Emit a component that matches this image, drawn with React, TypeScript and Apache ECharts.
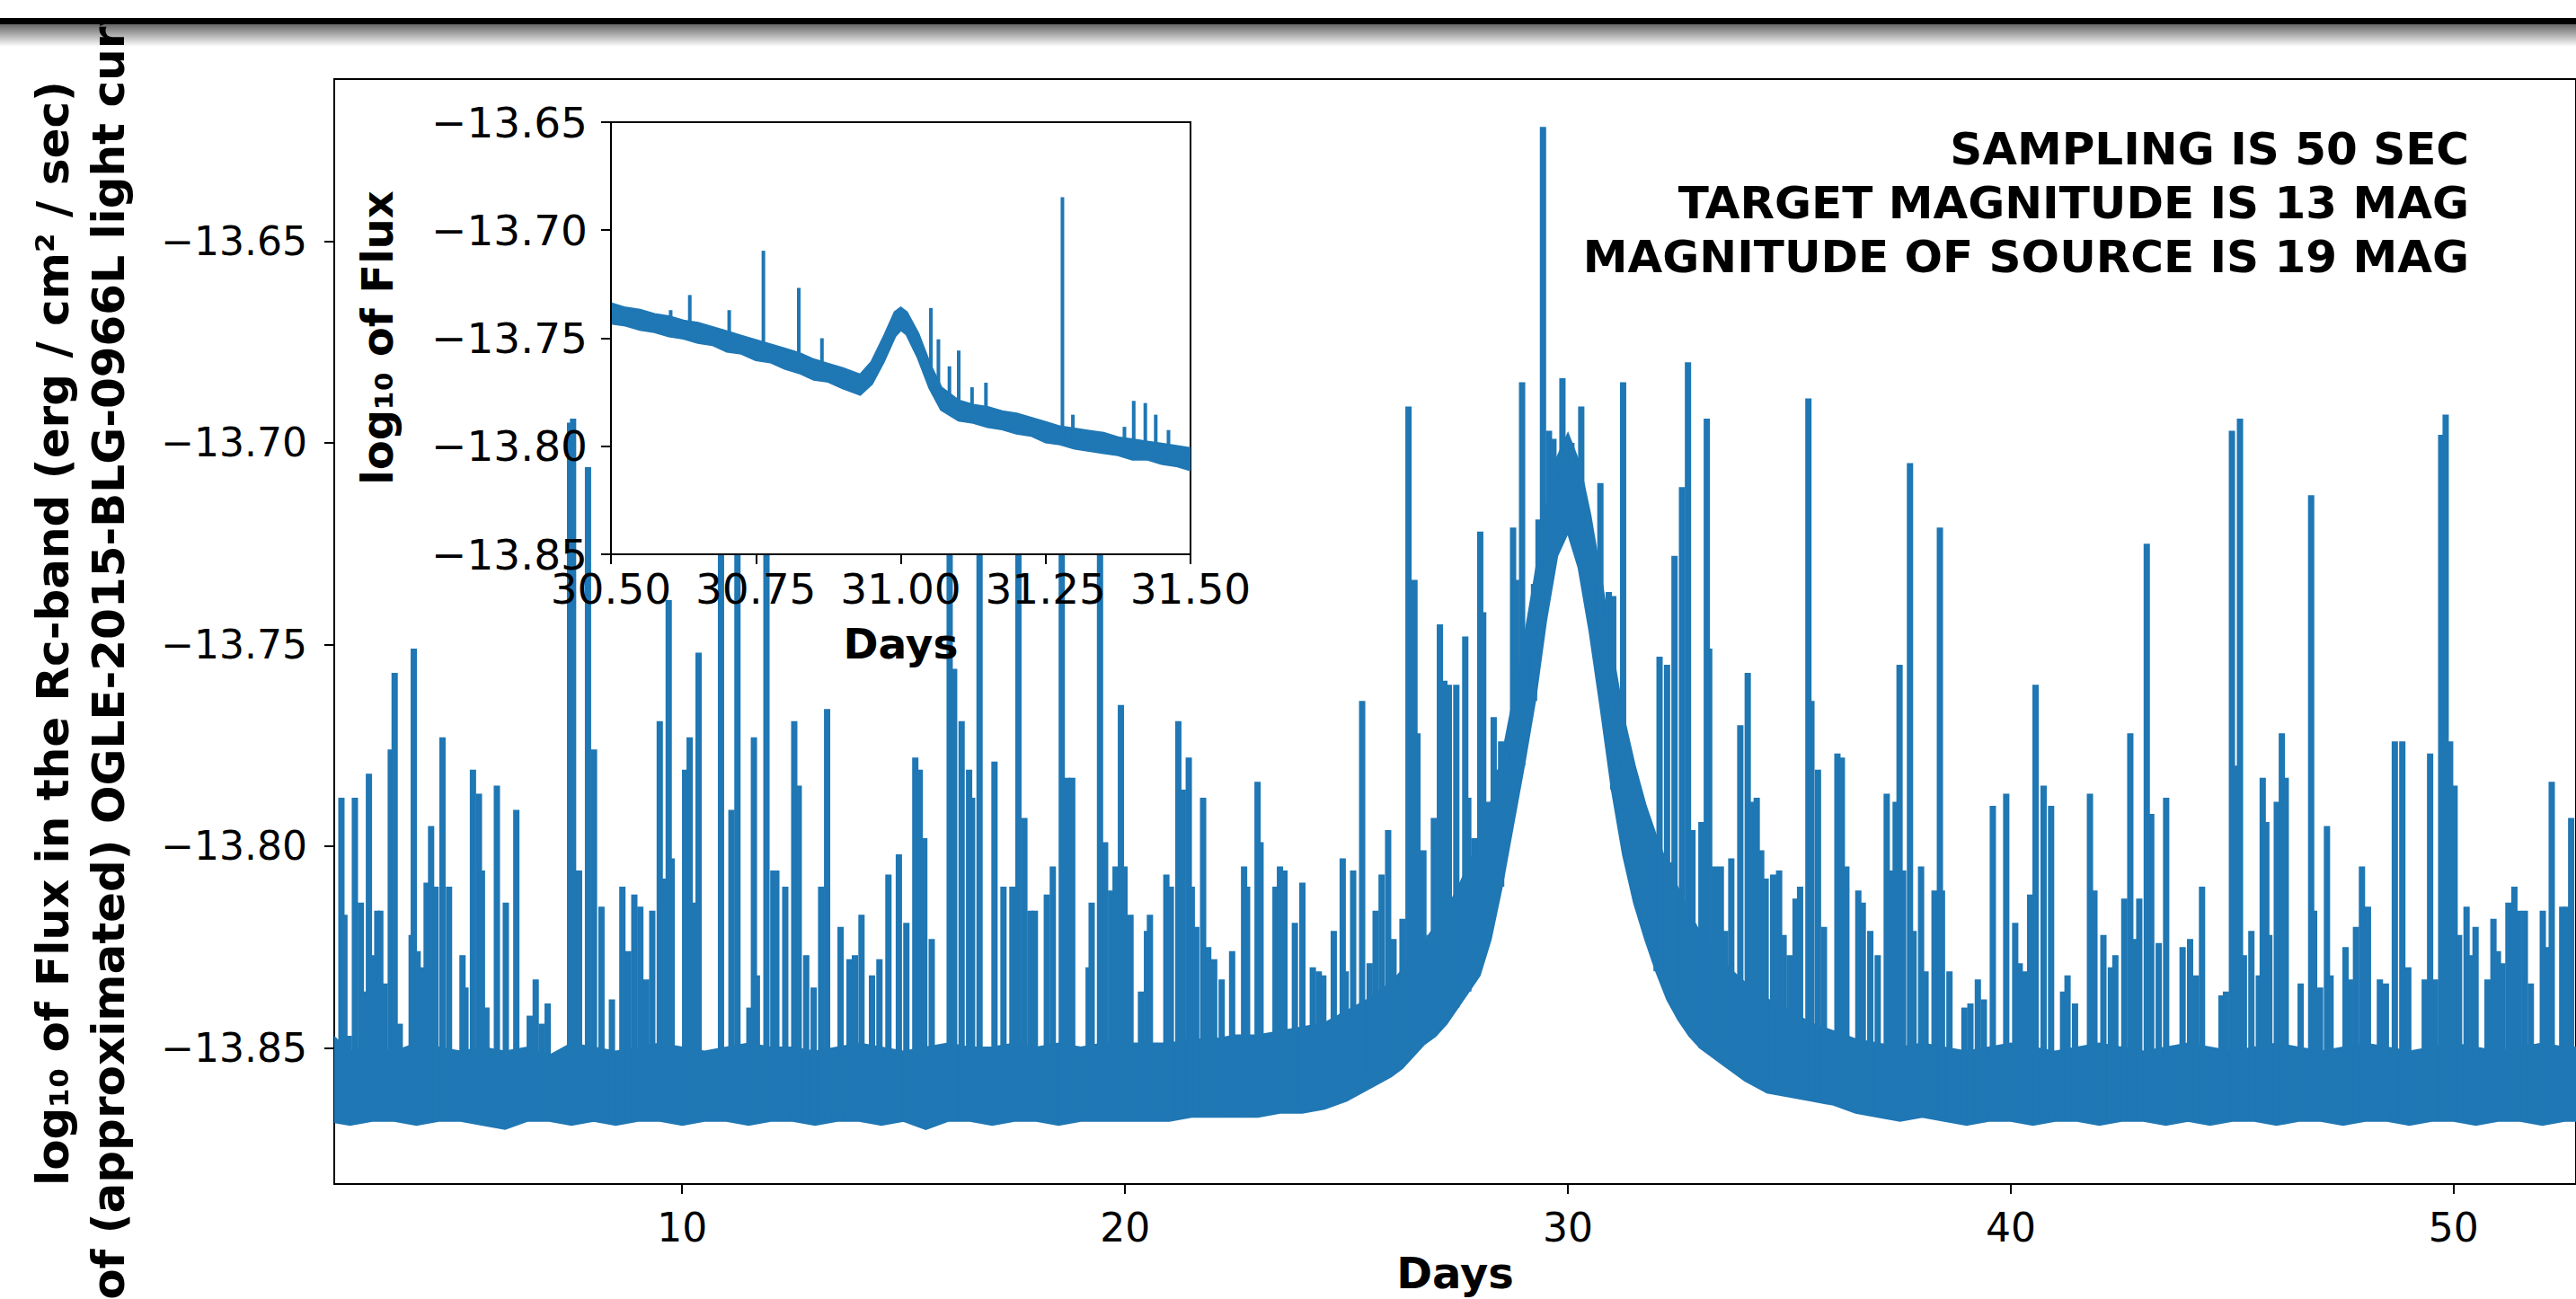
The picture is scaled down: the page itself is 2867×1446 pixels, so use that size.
import React, { useEffect, useRef } from "react";
import * as echarts from "echarts";

// ---------------- DATA ----------------
// Main light curve: dense noise band (lower / upper envelope of the solid band)
const bandDays = [2.0, 2.5, 3.0, 3.5, 4.0, 4.5, 5.0, 5.5, 6.0, 6.5, 7.0, 7.5, 8.0, 8.5, 9.0, 9.5, 10.0, 10.5, 11.0, 11.5, 12.0, 12.5, 13.0, 13.5, 14.0, 14.5, 15.0, 15.5, 16.0, 16.5, 17.0, 17.5, 18.0, 18.5, 19.0, 19.5, 20.0, 20.5, 21.0, 21.5, 22.0, 22.5, 23.0, 23.5, 24.0, 24.5, 25.0, 25.5, 26.0, 26.25, 26.5, 26.75, 27.0, 27.25, 27.5, 27.75, 28.0, 28.25, 28.5, 28.75, 29.0, 29.25, 29.5, 29.75, 30.0, 30.25, 30.5, 30.75, 31.0, 31.25, 31.5, 31.75, 32.0, 32.25, 32.5, 32.75, 33.0, 33.5, 34.0, 34.5, 35.0, 35.5, 36.0, 36.5, 37.0, 37.5, 38.0, 38.5, 39.0, 39.5, 40.0, 40.5, 41.0, 41.5, 42.0, 42.5, 43.0, 43.5, 44.0, 44.5, 45.0, 45.5, 46.0, 46.5, 47.0, 47.5, 48.0, 48.5, 49.0, 49.5, 50.0, 50.5, 51.0, 51.5, 52.0, 52.5, 53.0];
const bandLow = [-13.868, -13.869, -13.868, -13.868, -13.869, -13.868, -13.868, -13.869, -13.870, -13.868, -13.868, -13.869, -13.868, -13.869, -13.868, -13.868, -13.869, -13.868, -13.868, -13.869, -13.868, -13.868, -13.869, -13.868, -13.868, -13.869, -13.868, -13.870, -13.868, -13.868, -13.869, -13.868, -13.868, -13.869, -13.868, -13.868, -13.868, -13.868, -13.868, -13.867, -13.867, -13.867, -13.867, -13.866, -13.866, -13.865, -13.863, -13.860, -13.857, -13.855, -13.852, -13.849, -13.847, -13.844, -13.840, -13.836, -13.832, -13.823, -13.810, -13.795, -13.780, -13.764, -13.744, -13.728, -13.722, -13.731, -13.747, -13.766, -13.786, -13.802, -13.814, -13.823, -13.831, -13.838, -13.843, -13.847, -13.850, -13.854, -13.858, -13.861, -13.862, -13.863, -13.864, -13.866, -13.867, -13.868, -13.867, -13.868, -13.869, -13.868, -13.868, -13.869, -13.868, -13.868, -13.869, -13.868, -13.868, -13.869, -13.868, -13.869, -13.868, -13.868, -13.869, -13.868, -13.868, -13.869, -13.868, -13.868, -13.869, -13.868, -13.868, -13.869, -13.868, -13.868, -13.869, -13.868, -13.868];
const bandHigh = [-13.846, -13.851, -13.850, -13.851, -13.849, -13.850, -13.851, -13.850, -13.851, -13.850, -13.852, -13.849, -13.850, -13.851, -13.850, -13.849, -13.850, -13.851, -13.850, -13.849, -13.850, -13.850, -13.851, -13.850, -13.849, -13.850, -13.851, -13.850, -13.849, -13.850, -13.850, -13.849, -13.850, -13.849, -13.850, -13.849, -13.849, -13.849, -13.849, -13.848, -13.848, -13.847, -13.847, -13.846, -13.845, -13.844, -13.841, -13.838, -13.834, -13.831, -13.828, -13.824, -13.820, -13.816, -13.811, -13.805, -13.799, -13.790, -13.779, -13.765, -13.750, -13.734, -13.717, -13.704, -13.698, -13.705, -13.718, -13.734, -13.752, -13.768, -13.780, -13.790, -13.798, -13.805, -13.811, -13.817, -13.822, -13.829, -13.834, -13.838, -13.841, -13.844, -13.846, -13.848, -13.849, -13.850, -13.849, -13.850, -13.851, -13.850, -13.849, -13.850, -13.851, -13.850, -13.849, -13.850, -13.851, -13.850, -13.849, -13.850, -13.851, -13.850, -13.849, -13.850, -13.851, -13.850, -13.849, -13.850, -13.851, -13.850, -13.849, -13.850, -13.851, -13.850, -13.849, -13.850, -13.850];

// Main light curve: spikes (day, top of spike)
const spikeDays = [
  2.306, 2.374, 2.475, 2.610, 2.745, 2.813, 2.927, 3.015, 3.116, 3.184, 3.285, 3.420, 3.508, 3.623, 3.892, 3.940, 4.027, 4.129, 4.230, 4.331,
  4.432, 4.588, 4.736, 5.040, 5.107, 5.276, 5.411, 5.479, 5.580, 5.816, 6.018, 6.255, 6.558, 6.693, 6.828, 6.963, 7.469, 7.537, 7.672, 7.874,
  8.009, 8.178, 8.414, 8.650, 8.785, 8.920, 9.055, 9.190, 9.325, 9.494, 9.595, 9.696, 9.764, 10.067, 10.169, 10.304, 10.371,
  10.877, 11.113, 11.248, 11.518, 11.620, 11.687, 11.903, 12.058, 12.126, 12.328, 12.531, 12.632, 12.801, 12.969, 13.138, 13.273, 13.577, 13.779,
  13.901, 14.049, 14.286, 14.454, 14.657, 14.893, 15.062, 15.264, 15.365, 15.467, 15.635, 16.040, 16.141, 16.310, 16.479, 16.546, 16.715, 17.052,
  17.255, 17.457, 17.592, 17.727, 17.862, 17.964, 18.234, 18.369, 18.571, 18.706, 18.807,
  19.178, 19.246, 19.435, 19.550, 19.685, 19.786, 19.907, 19.988, 20.123, 20.360, 20.495, 20.562, 20.933, 21.034, 21.203, 21.304, 21.439, 21.507,
  21.608, 21.763, 21.878, 22.013, 22.182, 22.418, 22.688, 22.756, 22.992, 23.059, 23.397, 23.498, 23.599, 23.835, 24.004, 24.240, 24.375, 24.477,
  24.713, 24.915, 24.983, 25.151, 25.354, 25.523, 25.658, 25.793, 25.941, 26.062, 26.265, 26.400, 26.535, 26.602, 26.737, 26.872, 26.973, 27.109,
  27.210, 27.311, 27.480,
  27.682, 27.750, 27.885, 28.020, 28.087, 28.189, 28.324, 28.425, 28.492, 28.627, 28.762, 28.830, 28.965, 29.066, 29.235, 29.336, 29.437, 29.572,
  29.673, 29.808, 29.876, 29.977, 30.078, 30.180, 30.301, 30.416, 30.551, 30.686, 30.733, 30.821, 30.922, 31.023, 31.091, 31.246, 31.327, 31.462,
  31.597, 31.732, 31.867, 32.002, 32.069, 32.238, 32.339, 32.407, 32.576, 32.711, 32.812, 33.014, 33.136, 33.190, 33.318, 33.453, 33.554, 33.689,
  33.892, 34.060, 34.162, 34.263, 34.364, 34.465, 34.634, 34.769, 34.870, 35.005, 35.140, 35.242, 35.430, 35.498, 35.646, 35.781, 36.085,
  36.185, 36.287, 36.557, 36.658, 36.827, 36.995, 37.198, 37.299, 37.400, 37.488, 37.569, 37.724, 37.805, 37.974, 38.075, 38.278, 38.399, 38.446,
  38.615, 38.953, 39.088, 39.256, 39.391, 39.594, 39.897, 40.100, 40.201, 40.302, 40.437, 40.559, 40.741, 40.910, 41.180, 41.281, 41.450, 41.787,
  41.888, 42.091, 42.260, 42.361, 42.563, 42.698, 42.800, 42.901, 43.070, 43.171, 43.340, 43.508, 43.879, 44.048, 44.183, 44.318,
  44.757, 44.858, 44.993, 45.061, 45.175, 45.263, 45.432, 45.601, 45.688, 45.769, 45.837, 46.006, 46.120, 46.208, 46.545, 46.782, 46.849, 46.984,
  47.139, 47.220, 47.558, 47.659, 47.794, 47.929, 48.064, 48.334, 48.469, 48.671, 48.840, 48.975, 49.346, 49.468, 49.583, 49.718, 49.819, 49.920,
  50.021, 50.122, 50.291, 50.393, 50.494, 50.764, 50.898, 50.999, 51.101, 51.236, 51.371, 51.472, 51.607, 51.742, 52.012, 52.113, 52.214, 52.451,
  52.552, 52.653
];
const spikeTops = [
  -13.788, -13.817, -13.847, -13.788, -13.814, -13.836, -13.782, -13.827, -13.816, -13.816, -13.834, -13.776, -13.757, -13.844, -13.822, -13.751, -13.826, -13.830, -13.809, -13.795,
  -13.810, -13.773, -13.810, -13.827, -13.835, -13.781, -13.787, -13.806, -13.840, -13.785, -13.814, -13.791, -13.842, -13.833, -13.844, -13.839, -13.695, -13.694, -13.806, -13.706,
  -13.776, -13.815, -13.838, -13.810, -13.826, -13.812, -13.815, -13.833, -13.816, -13.769, -13.808, -13.739, -13.803, -13.781, -13.773, -13.814, -13.752,
  -13.700, -13.791, -13.700, -13.840, -13.773, -13.832, -13.700, -13.806, -13.806, -13.810, -13.769, -13.785, -13.827, -13.835, -13.810, -13.766, -13.820, -13.828,
  -13.827, -13.817, -13.832, -13.828, -13.807, -13.802, -13.819, -13.778, -13.781, -13.798, -13.823, -13.700, -13.756, -13.769, -13.781, -13.788, -13.700, -13.779,
  -13.810, -13.810, -13.700, -13.793, -13.816, -13.816, -13.812, -13.805, -13.700, -13.783, -13.783,
  -13.830, -13.814, -13.700, -13.799, -13.811, -13.805, -13.765, -13.805, -13.817, -13.836, -13.821, -13.817, -13.807, -13.810, -13.769, -13.786, -13.778, -13.810,
  -13.820, -13.788, -13.825, -13.828, -13.833, -13.826, -13.805, -13.810, -13.784, -13.799, -13.810, -13.805, -13.806, -13.819, -13.809, -13.830, -13.831, -13.832,
  -13.821, -13.803, -13.831, -13.806, -13.764, -13.829, -13.816, -13.807, -13.796, -13.823, -13.818, -13.691, -13.734, -13.772, -13.801, -13.822, -13.793, -13.745,
  -13.759, -13.760, -13.760,
  -13.748, -13.788, -13.798, -13.722, -13.742, -13.789, -13.768, -13.781, -13.774, -13.781, -13.721, -13.734, -13.685, -13.753, -13.735, -13.719, -13.6217, -13.697,
  -13.699, -13.708, -13.684, -13.701, -13.700, -13.704, -13.691, -13.725, -13.735, -13.735, -13.710, -13.745, -13.737, -13.738, -13.779, -13.685, -13.781, -13.788,
  -13.808, -13.799, -13.798, -13.805, -13.753, -13.755, -13.804, -13.728, -13.711, -13.680, -13.796, -13.794, -13.694, -13.751, -13.805, -13.805, -13.821, -13.803,
  -13.770, -13.757, -13.789, -13.788, -13.801, -13.808, -13.807, -13.806, -13.822, -13.827, -13.813, -13.810, -13.689, -13.764, -13.781, -13.820, -13.777,
  -13.778, -13.805, -13.811, -13.814, -13.821, -13.827, -13.787, -13.806, -13.789, -13.755, -13.806, -13.705, -13.821, -13.805, -13.831, -13.811, -13.721, -13.811,
  -13.831, -13.840, -13.839, -13.833, -13.838, -13.790, -13.787, -13.819, -13.829, -13.831, -13.812, -13.760, -13.785, -13.790, -13.836, -13.832, -13.839, -13.787,
  -13.811, -13.822, -13.830, -13.827, -13.813, -13.772, -13.823, -13.813, -13.725, -13.792, -13.824, -13.788, -13.825, -13.823, -13.832, -13.810,
  -13.837, -13.836, -13.697, -13.780, -13.694, -13.827, -13.821, -13.832, -13.783, -13.794, -13.822, -13.789, -13.772, -13.783, -13.834, -13.713, -13.816, -13.835,
  -13.795, -13.832, -13.825, -13.833, -13.820, -13.805, -13.815, -13.833, -13.834, -13.774, -13.774, -13.830, -13.833, -13.777, -13.833, -13.698, -13.693, -13.774,
  -13.785, -13.822, -13.815, -13.827, -13.820, -13.833, -13.818, -13.826, -13.829, -13.814, -13.810, -13.816, -13.816, -13.834, -13.816, -13.825, -13.784, -13.815,
  -13.815, -13.793
];

// Inset (30.5 - 31.5 days): band and spikes
const insetDays = [30.50, 30.525, 30.55, 30.575, 30.60, 30.625, 30.65, 30.675, 30.70, 30.725, 30.75, 30.775, 30.80, 30.825, 30.85, 30.875, 30.90, 30.93, 30.95, 30.97, 30.99, 31.00, 31.01, 31.03, 31.05, 31.07, 31.10, 31.125, 31.15, 31.175, 31.20, 31.225, 31.25, 31.275, 31.30, 31.325, 31.35, 31.375, 31.40, 31.425, 31.45, 31.475, 31.50];
const insetLow = [-13.743, -13.744, -13.746, -13.747, -13.749, -13.750, -13.752, -13.753, -13.756, -13.757, -13.760, -13.761, -13.764, -13.766, -13.769, -13.770, -13.773, -13.776, -13.771, -13.761, -13.749, -13.746, -13.748, -13.759, -13.773, -13.783, -13.788, -13.789, -13.791, -13.792, -13.794, -13.795, -13.798, -13.799, -13.801, -13.802, -13.803, -13.804, -13.806, -13.806, -13.808, -13.809, -13.811];
const insetHigh = [-13.734, -13.736, -13.737, -13.739, -13.740, -13.742, -13.743, -13.745, -13.747, -13.749, -13.751, -13.753, -13.755, -13.757, -13.760, -13.762, -13.764, -13.767, -13.761, -13.750, -13.738, -13.736, -13.738, -13.748, -13.762, -13.773, -13.779, -13.781, -13.782, -13.784, -13.785, -13.787, -13.789, -13.791, -13.792, -13.793, -13.794, -13.796, -13.797, -13.798, -13.799, -13.800, -13.801];
const insetSpikeDays = [30.575, 30.603, 30.636, 30.704, 30.763, 30.799, 30.824, 30.855, 30.864, 31.027, 31.052, 31.065, 31.084, 31.100, 31.123, 31.147, 31.279, 31.297, 31.386, 31.402, 31.422, 31.440, 31.462];
const insetSpikeTops = [-13.741, -13.737, -13.730, -13.737, -13.7095, -13.7547, -13.7267, -13.760, -13.750, -13.7494, -13.736, -13.7505, -13.763, -13.7557, -13.7727, -13.7706, -13.6847, -13.7854, -13.791, -13.779, -13.780, -13.7854, -13.7925];

// Ticks and texts
const mainXTicks = [10, 20, 30, 40, 50];
const mainYTicks = [-13.85, -13.8, -13.75, -13.7, -13.65];
const yLabelLines = [
  "log\u2081\u2080 of Flux in the Rc-band (erg / cm\u00B2 / sec)",
  "of (approximated) OGLE-2015-BLG-0966L light curve",
];
const insetYLabel = "log\u2081\u2080 of Flux";
const xLabel = "Days";
const annotationLines = ["SAMPLING IS 50 SEC", "TARGET MAGNITUDE IS 13 MAG", "MAGNITUDE OF SOURCE IS 19 MAG"];

// ---------------- STYLE ----------------
const BLUE = "#1f77b4";
const FONT = "DejaVu Sans";

const fmt = (v: number) => v.toFixed(2).replace("-", "\u2212");

// base of a spike: the higher of the two bracketing lower-envelope samples (inside the band)
function spikeBase(days: number[], low: number[], d: number) {
  let i = 0;
  while (i < days.length - 2 && days[i + 1] < d) i++;
  return Math.max(low[i], low[i + 1]);
}

function bandRenderer(days: number[], low: number[], high: number[], lw: number) {
  return (params: any, api: any) => {
    if (params.dataIndex !== 0) return null;
    const pts: number[][] = [];
    for (let i = 0; i < days.length; i++) pts.push(api.coord([days[i], high[i]]));
    for (let i = days.length - 1; i >= 0; i--) pts.push(api.coord([days[i], low[i]]));
    return {
      type: "polygon",
      shape: { points: pts },
      style: { fill: BLUE, stroke: BLUE, lineWidth: lw, lineJoin: "miter" },
    };
  };
}

function spikeRenderer(lw: number) {
  return (params: any, api: any) => {
    const d = api.value(0);
    const p1 = api.coord([d, api.value(1)]);
    const p0 = api.coord([d, api.value(2)]);
    return {
      type: "line",
      shape: { x1: p0[0], y1: p0[1], x2: p1[0], y2: p1[1] },
      style: { stroke: BLUE, lineWidth: lw, lineCap: "butt" },
    };
  };
}

export default function App() {
  const ref = useRef<HTMLDivElement>(null);
  useEffect(() => {
    if (!ref.current) return;
    const chart = echarts.init(ref.current, null, { renderer: "svg", width: 2867, height: 1446 });

    const tickFont = { fontSize: 44, color: "#000", fontFamily: FONT };
    const insetTickFont = { fontSize: 47, color: "#000", fontFamily: FONT };

    const option: any = {
      animation: false,
      backgroundColor: "#fff",
      grid: [
        { left: 372, top: 88, width: 2500, height: 1234, show: true, borderColor: "#000", borderWidth: 2, backgroundColor: "transparent", z: 0 },
        { left: 680, top: 136, width: 645, height: 481, show: true, borderColor: "#000", borderWidth: 2, backgroundColor: "#fff", z: 10 },
      ],
      xAxis: [
        {
          type: "value", gridIndex: 0, min: 2.144, max: 52.762,
          axisLine: { show: true, onZero: false, lineStyle: { color: "#000", width: 2 } },
          axisTick: { show: true, inside: false, length: 11, customValues: mainXTicks, lineStyle: { color: "#000", width: 2 } },
          axisLabel: { show: true, customValues: mainXTicks, margin: 26, formatter: (v: number) => String(v), ...tickFont },
          splitLine: { show: false },
          name: xLabel, nameLocation: "middle", nameGap: 75,
          nameTextStyle: { fontSize: 48, fontWeight: "bold", fontFamily: FONT, color: "#000", verticalAlign: "top" },
        },
        {
          type: "value", gridIndex: 1, min: 30.5, max: 31.5, interval: 0.25, z: 12,
          axisLine: { show: true, onZero: false, lineStyle: { color: "#000", width: 2 } },
          axisTick: { show: true, inside: false, length: 11, lineStyle: { color: "#000", width: 2 } },
          axisLabel: { show: true, margin: 15, formatter: (v: number) => fmt(v), showMinLabel: true, showMaxLabel: true, hideOverlap: false, ...insetTickFont },
          splitLine: { show: false },
          name: xLabel, nameLocation: "middle", nameGap: 76,
          nameTextStyle: { fontSize: 47, fontWeight: "bold", fontFamily: FONT, color: "#000", verticalAlign: "top" },
        },
      ],
      yAxis: [
        {
          type: "value", gridIndex: 0, min: -13.88374, max: -13.60982,
          axisLine: { show: true, onZero: false, lineStyle: { color: "#000", width: 2 } },
          axisTick: { show: true, inside: false, length: 11, customValues: mainYTicks, lineStyle: { color: "#000", width: 2 } },
          axisLabel: { show: true, customValues: mainYTicks, margin: 30, formatter: (v: number) => fmt(v), ...tickFont },
          splitLine: { show: false },
        },
        {
          type: "value", gridIndex: 1, min: -13.85, max: -13.65, interval: 0.05, z: 12,
          axisLine: { show: true, onZero: false, lineStyle: { color: "#000", width: 2 } },
          axisTick: { show: true, inside: false, length: 11, lineStyle: { color: "#000", width: 2 } },
          axisLabel: { show: true, margin: 26, formatter: (v: number) => fmt(v), showMinLabel: true, showMaxLabel: true, hideOverlap: false, ...insetTickFont },
          splitLine: { show: false },
        },
      ],
      series: [
        {
          type: "custom", name: "band", xAxisIndex: 0, yAxisIndex: 0, z: 2, silent: true, clip: true,
          data: bandDays.map((d, i) => [d, bandLow[i], bandHigh[i]]),
          encode: { x: 0, y: [1, 2] },
          renderItem: bandRenderer(bandDays, bandLow, bandHigh, 3),
        },
        {
          type: "custom", name: "spikes", xAxisIndex: 0, yAxisIndex: 0, z: 2, silent: true, clip: true,
          data: spikeDays.map((d, i) => [d, spikeTops[i], spikeBase(bandDays, bandLow, d)]),
          encode: { x: 0, y: [1, 2] },
          renderItem: spikeRenderer(7),
        },
        {
          type: "custom", name: "insetBand", xAxisIndex: 1, yAxisIndex: 1, z: 11, silent: true, clip: true,
          data: insetDays.map((d, i) => [d, insetLow[i], insetHigh[i]]),
          encode: { x: 0, y: [1, 2] },
          renderItem: bandRenderer(insetDays, insetLow, insetHigh, 3),
        },
        {
          type: "custom", name: "insetSpikes", xAxisIndex: 1, yAxisIndex: 1, z: 11, silent: true, clip: true,
          data: insetSpikeDays.map((d, i) => [d, insetSpikeTops[i], spikeBase(insetDays, insetLow, d)]),
          encode: { x: 0, y: [1, 2] },
          renderItem: spikeRenderer(4),
        },
      ],
      graphic: {
        elements: [
          {
            type: "text", x: 59, y: 705, rotation: Math.PI / 2, z: 5, silent: true,
            style: { text: yLabelLines[0], fontSize: 50, fontWeight: "bold", fontFamily: FONT, fill: "#000", align: "center", verticalAlign: "middle" },
          },
          {
            type: "text", x: 121, y: 705, rotation: Math.PI / 2, z: 5, silent: true,
            style: { text: yLabelLines[1], fontSize: 50, fontWeight: "bold", fontFamily: FONT, fill: "#000", align: "center", verticalAlign: "middle" },
          },
          {
            type: "text", x: 420, y: 376, rotation: Math.PI / 2, z: 20, silent: true,
            style: { text: insetYLabel, fontSize: 48, fontWeight: "bold", fontFamily: FONT, fill: "#000", align: "center", verticalAlign: "middle" },
          },
          ...annotationLines.map((t, i) => ({
            type: "text", x: 2748, y: 166 + i * 60, z: 20, silent: true,
            style: { text: t, fontSize: 50, fontWeight: "bold", fontFamily: FONT, fill: "#000", align: "right", verticalAlign: "middle" },
          })),
          { type: "rect", shape: { x: 0, y: 0, width: 2867, height: 20 }, z: 30, silent: true, style: { fill: "#fff" } },
          { type: "rect", shape: { x: 0, y: 20, width: 2867, height: 7 }, z: 30, silent: true, style: { fill: "#000" } },
          {
            type: "rect", shape: { x: 0, y: 27, width: 2867, height: 25 }, z: 30, silent: true,
            style: {
              fill: new echarts.graphic.LinearGradient(0, 0, 0, 1, [
                { offset: 0, color: "rgba(0,0,0,0.6)" },
                { offset: 1, color: "rgba(0,0,0,0)" },
              ]),
            },
          },
        ],
      },
    };

    chart.setOption(option);
    return () => chart.dispose();
  }, []);

  return (
    <div
      ref={ref}
      style={{ position: "absolute", left: 0, top: 0, width: 2867, height: 1446, background: "#fff" }}
    />
  );
}
